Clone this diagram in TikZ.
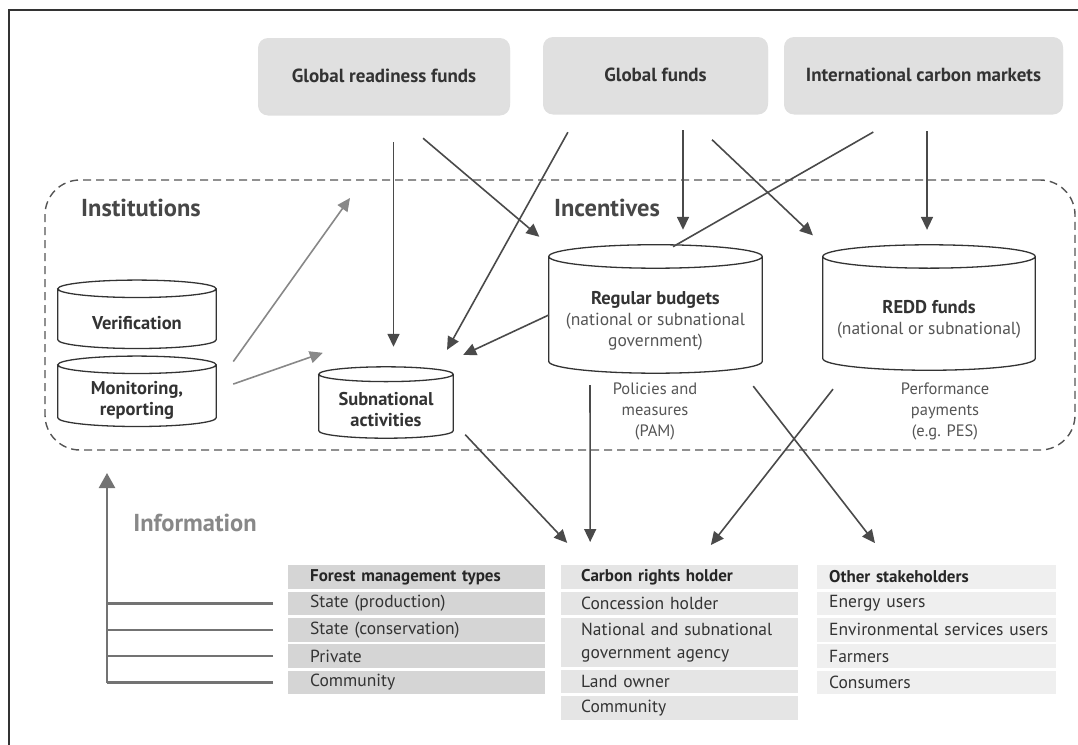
\documentclass[tikz,border=0pt]{standalone}
\usepackage{fontspec}
\setmainfont{PT Sans}
\usetikzlibrary{arrows.meta,positioning,calc,shadows,backgrounds}
\definecolor{boxgray}{HTML}{E0E0E0}
\definecolor{fmgray}{HTML}{D5D5D5}
\definecolor{crgray}{HTML}{E5E5E5}
\definecolor{osgray}{HTML}{EFEFEF}
\definecolor{ink}{HTML}{333333}
\definecolor{arrowink}{HTML}{4A4A4A}
\definecolor{softink}{HTML}{888888}
\definecolor{subink}{HTML}{555555}
\newcommand{\cyltitle}[1]{{\fontsize{18.5}{21}\selectfont\bfseries #1}}

\begin{document}
\begin{tikzpicture}[
  x=1pt,y=-1pt,
  font=\fontsize{17}{21}\selectfont,
  node distance=2.5pt,
  fund/.style={rectangle,rounded corners=10pt,fill=boxgray,text=ink,font=\fontsize{19}{21}\selectfont\bfseries,minimum height=75pt,drop shadow={opacity=.25,shadow xshift=0pt,shadow yshift=-2.5pt}},
  cyl/.style={rectangle,align=center,text=ink,inner sep=0pt,font=\fontsize{17.5}{21}\selectfont},
  cylline/.style={draw=ink,fill=white,line width=1.3pt},
  zone/.style={draw=subink,dash pattern=on 8pt off 5pt,line width=1.4pt,rounded corners=35pt,minimum width=1030pt,minimum height=270pt},
  grp/.style={font=\fontsize{24.5}{28}\selectfont\bfseries,text=ink!90},
  note/.style={align=center,text=subink,font=\fontsize{16.5}{21}\selectfont},
  cell/.style={rectangle,minimum height=23.5pt,inner ysep=0pt,align=left,text=ink,font=\fontsize{17.5}{23}\selectfont},
  head/.style={font=\fontsize{17}{23}\selectfont\bfseries,text=black!85},
  fmcell/.style={cell,fill=fmgray,inner xsep=22pt,text width=213pt},
  crcell/.style={cell,fill=crgray,inner xsep=20pt,text width=197pt},
  oscell/.style={cell,fill=osgray,inner xsep=12pt,text width=215pt},
  ar/.style={-{Triangle[length=13pt,width=12pt]},draw=arrowink,line width=1.6pt},
  ln/.style={draw=arrowink,line width=1.6pt},
  softar/.style={-{Triangle[length=13pt,width=12pt]},draw=softink,line width=1.6pt},
  infoln/.style={draw=black!55,line width=2.4pt},
  infoar/.style={infoln,-{Triangle[length=15pt,width=16pt]}}
]
\useasboundingbox (0,0) rectangle (1078,744);
\draw[ink,line width=1.2pt] (1100,10) -- (9,10) -- (9,760);

% funding sources
\node[fund,minimum width=252pt] (grf) at (384,75.5) {Global readiness funds};
\node[fund,minimum width=225pt] (gf) at (655.5,74.5) {Global funds};
\node[fund,minimum width=279pt] (icm) at (923.5,74.5) {International carbon markets};

% national level
\node[zone] (zone) at (560,315) {};
\node[grp] (inst) at (141,208) {Institutions};
\node[grp] (inc) at (607,208) {Incentives};

\node[cyl,minimum width=158pt,minimum height=50.6pt] (ver) at (137,323) {\cyltitle{Verification}};
\node[cyl,minimum width=158pt,minimum height=52.6pt] (mon) at (137,400) {\cyltitle{Monitoring,}\\\cyltitle{reporting}};
\node[cyl,minimum width=134pt,minimum height=56.2pt] (sub) at (386,409.9) {\cyltitle{Subnational}\\\cyltitle{activities}};
\node[cyl,minimum width=213pt,minimum height=104.6pt] (reg) at (655.5,320.7)
  {\cyltitle{Regular budgets}\\\textcolor{subink}{(national or subnational}\\\textcolor{subink}{government)}};
\node[cyl,minimum width=212pt,minimum height=101.7pt] (redd) at (929,319.2)
  {\cyltitle{REDD funds}\\\textcolor{subink}{(national or subnational)}};

\begin{scope}[on background layer]
  \foreach \c in {ver,mon,sub,reg,redd}
    \path[cylline] let \p1=(\c.north west), \p2=(\c.south east),
        \n1={(\x2-\x1)/2}, \n2={0.055*(\x2-\x1)} in
      (\x1,{\y1+\n2}) -- (\x1,{\y2+\n2})
      arc[start angle=180,end angle=360,x radius=\n1,y radius=\n2]
      -- (\x2,{\y1+\n2})
      arc[start angle=0,end angle=180,x radius=\n1,y radius=\n2]
      arc[start angle=180,end angle=360,x radius=\n1,y radius=\n2];
\end{scope}

\node[note] (pam) at (655,411) {Policies and\\measures\\(PAM)};
\node[note] (pes) at (945,411) {Performance\\payments\\(e.g. PES)};

% stakeholder tables
\node[fmcell,head,anchor=north west] (fmh) at (288,565) {Forest management types};
\node[fmcell,below=of fmh] (fm1) {State (production)};
\node[fmcell,below=of fm1] (fm2) {State (conservation)};
\node[fmcell,below=of fm2] (fm3) {Private};
\node[fmcell,below=of fm3] (fm4) {Community};

\node[crcell,head,anchor=north west] (crh) at (561,565) {Carbon rights holder};
\node[crcell,below=of crh] (cr1) {Concession holder};
\node[crcell,minimum height=49pt,below=of cr1] (cr2) {\mbox{National and subnational}\\government agency};
\node[crcell,below=of cr2] (cr3) {Land owner};
\node[crcell,below=of cr3] (cr4) {Community};

\node[oscell,head,anchor=north west] (osh) at (817,565) {Other stakeholders};
\node[oscell,below=of osh] (os1) {Energy users};
\node[oscell,below=of os1] (os2) {\mbox{Environmental services users}};
\node[oscell,below=of os2] (os3) {Farmers};
\node[oscell,below=of os3] (os4) {Consumers};

% flows of money
\draw[ar,shorten <=29pt,shorten >=34.8pt] ([xshift=9.5pt]grf.south) -- ([xshift=7.5pt]sub.north);
\draw[ar,shorten <=38.7pt,shorten >=12.4pt] ([xshift=9.5pt]grf.south) -- ([yshift=23.4pt]reg.north west);
\draw[ar,shorten <=22.9pt,shorten >=36.3pt] ([xshift=-76.5pt]gf.south) -- ([xshift=43.4pt]sub.north);
\draw[ar,shorten >=11pt] ([yshift=5.7pt]reg.west) -- ([yshift=22pt]sub.north east);
\draw[ar,shorten <=18pt,shorten >=38.4pt] ([xshift=27.5pt]gf.south) -- ([xshift=27.5pt]reg.north);
\draw[ar,shorten <=40pt,shorten >=13.6pt] ([xshift=27.5pt]gf.south) -- ([yshift=23.4pt]redd.north west);
\draw[ln,shorten <=40pt] ([xshift=-15.5pt]icm.south) -- ([xshift=17.5pt,yshift=21.5pt]reg.north);
\draw[ar,shorten <=19pt,shorten >=38.3pt] ([xshift=3.5pt]icm.south) -- ([xshift=-2pt]redd.north);

\draw[ar,shorten <=17.5pt,shorten >=30.4pt] ([yshift=-12pt]sub.east) -- ([xshift=27pt]crh.north west);
\draw[ar,shorten <=12pt,shorten >=23pt] ([xshift=-65.5pt]reg.south) -- ([xshift=-89.5pt]crh.north);
\draw[ar,shorten <=16.4pt,shorten >=27.8pt] ([xshift=-19pt]reg.south east) -- ([xshift=75pt]osh.north west);
\draw[ar,shorten <=24pt,shorten >=25.4pt] ([xshift=25pt]redd.south west) -- ([xshift=15.5pt]crh.north);

% information
\coordinate (instin) at (350,198);
\draw[softar,shorten <=29.4pt] ([yshift=14.5pt]mon.east) -- (instin);
\draw[softar,shorten <=18pt] ([yshift=10pt]mon.east) -- ([xshift=4pt,yshift=28.8pt]sub.north west);

\coordinate (infotop) at (107,473);
\node[grp,text=softink] (info) at (195,523) {Information};
\draw[infoar] (infotop |- fm4.west) -- (infotop);
\foreach \r in {fm1,fm2,fm3,fm4}
  \draw[infoln,shorten <=15pt] (\r.west) -- (infotop |- \r.west);
\end{tikzpicture}
\end{document}
